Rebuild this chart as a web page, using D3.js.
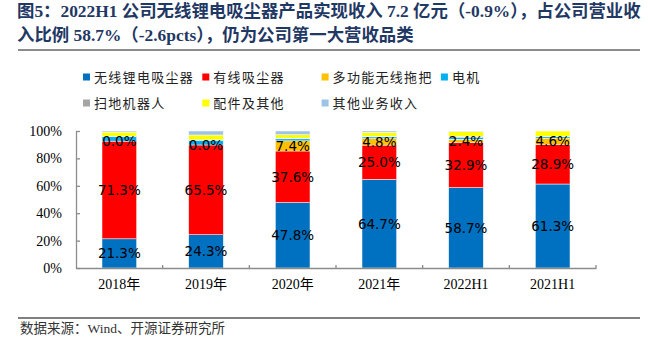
<!DOCTYPE html>
<html><head><meta charset="utf-8">
<script src="https://cdn.jsdelivr.net/npm/d3@7"></script>
<style>
html,body{margin:0;padding:0;background:#fff;overflow:hidden;}
svg{display:block;}
</style></head>
<body>
<svg id="chart" width="648" height="338"></svg>
<script>
const categories = ["2018年","2019年","2020年","2021年","2022H1","2021H1"];
const seriesNames = ["无线锂电吸尘器","有线吸尘器","多功能无线拖把","电机","扫地机器人","配件及其他","其他业务收入"];
const wireless    = [21.3, 24.3, 47.8, 64.7, 58.7, 61.3];
const corded      = [71.3, 65.5, 37.6, 25.0, 32.9, 28.9];
const mop         = [0.0, 0.0, 7.4, 4.8, 2.4, 4.6];
const motor       = [3.3, 3.2, 1.5, 1.2, 1.5, 1.0];
const robot       = [0.3, 0.5, 0.5, 0.3, 0.7, 0.2];
const accessories = [3.0, 3.6, 2.5, 3.0, 3.5, 4.0];
const otherBiz    = [0.8, 2.9, 2.7, 1.0, 0.3, 0.0];
const yTicks = [0, 20, 40, 60, 80, 100];
const titleLines = [
  "图5：2022H1 公司无线锂电吸尘器产品实现收入 7.2 亿元（-0.9%），占公司营业收",
  "入比例 58.7%（-2.6pcts），仍为公司第一大营收品类"
];
const labeledSeries = [0, 1, 2];
const colors = ["#0070C0","#FF0000","#FFC000","#00B0F0","#A5A5A5","#FFFF00","#9DC3E6"];

const allSeries = [wireless, corded, mop, motor, robot, accessories, otherBiz];
const rows = categories.map((c, i) => {
  const r = {cat: c};
  seriesNames.forEach((s, k) => r[s] = allSeries[k][i]);
  return r;
});

const svg = d3.select("#chart");

// Title
const title = svg.append("g").attr("font-family", "'Liberation Serif','Noto Sans CJK SC',serif")
  .attr("font-weight", "bold").attr("font-size", 17.4).attr("fill", "#1F3864");
titleLines.forEach((t, i) => {
  title.append("text").attr("x", 17).attr("y", 17 + i * 24).text(t);
});
svg.append("line").attr("x1", 18).attr("x2", 640).attr("y1", 50).attr("y2", 50)
  .attr("stroke", "#8c8c8c").attr("stroke-width", 2);

// Scales
const x = d3.scaleBand().domain(categories).range([76, 596]).padding(0);
const y = d3.scaleLinear().domain([0, 100]).range([268, 131]);
const barW = x.bandwidth() * 0.4;

const stack = d3.stack().keys(seriesNames);
const stacked = stack(rows);

const plot = svg.append("g");
plot.selectAll("g.series").data(stacked).join("g")
  .attr("class", "series")
  .attr("fill", (d, i) => colors[i])
  .selectAll("rect").data(d => d).join("rect")
  .attr("x", d => x(d.data.cat) + (x.bandwidth() - barW) / 2)
  .attr("width", barW)
  .attr("y", d => y(d[1]))
  .attr("height", d => Math.max(0, y(d[0]) - y(d[1])))
  .attr("stroke", "#ffffff").attr("stroke-width", 0.5);

// Data labels
labeledSeries.forEach(k => {
  plot.append("g").selectAll("text").data(stacked[k]).join("text")
    .attr("x", d => x(d.data.cat) + x.bandwidth() / 2)
    .attr("y", d => y((d[0] + d[1]) / 2))
    .attr("dy", "0.36em")
    .attr("text-anchor", "middle")
    .attr("font-family", "'DejaVu Sans',sans-serif")
    .attr("font-size", 13.5)
    .attr("fill", "#000")
    .text(d => (d[1] - d[0]).toFixed(1) + "%");
});

// Y axis
const yAxis = d3.axisLeft(y).tickValues(yTicks).tickFormat(d => d + "%").tickSizeInner(-4).tickSizeOuter(0).tickPadding(14);
const yg = svg.append("g").attr("transform", "translate(76,0)").call(yAxis);
yg.select(".domain").attr("stroke", "#8c8c8c").attr("stroke-width", 1.3);
yg.selectAll(".tick line").attr("stroke", "#8c8c8c").attr("stroke-width", 1.3);
yg.selectAll("text").attr("font-family", "'Liberation Serif',serif").attr("font-size", 14).attr("fill", "#000");

// X axis
const xAxis = d3.axisBottom(x).tickSize(0).tickPadding(11);
const xg = svg.append("g").attr("transform", "translate(0,268)").call(xAxis);
xg.select(".domain").attr("stroke", "#8c8c8c").attr("stroke-width", 1.3);
xg.selectAll("text").attr("font-family", "'Liberation Serif','Noto Sans CJK SC',serif").attr("font-size", 14).attr("fill", "#000");
const bounds = categories.slice(1).map(c => x(c)).concat([x.range()[1]]);
xg.selectAll("line.bound").data(bounds).join("line").attr("class", "bound")
  .attr("x1", d => d).attr("x2", d => d).attr("y1", -3).attr("y2", 0)
  .attr("stroke", "#8c8c8c").attr("stroke-width", 1.3);

// Legend
const legend = svg.append("g").attr("font-family", "'Noto Sans CJK SC',sans-serif").attr("font-size", 13).attr("fill", "#222");
seriesNames.forEach((name, i) => {
  const col = i < 4 ? i : i - 4;
  const row = i < 4 ? 0 : 1;
  const gx = 83 + col * 119.3;
  const gy = 77 + row * 26;
  legend.append("rect").attr("x", gx).attr("y", gy - 3.5).attr("width", 7).attr("height", 7).attr("fill", colors[i]);
  legend.append("text").attr("x", gx + 11).attr("y", gy).attr("dy", "0.36em")
    .attr("letter-spacing", 1.3).text(name);
});

// Footer
svg.append("line").attr("x1", 18).attr("x2", 640).attr("y1", 318).attr("y2", 318)
  .attr("stroke", "#555").attr("stroke-width", 1.3);
svg.append("text").attr("x", 20).attr("y", 333)
  .attr("font-family", "'Liberation Serif','Noto Sans CJK SC',serif").attr("font-size", 13.5).attr("fill", "#333")
  .text("数据来源：Wind、开源证券研究所");
</script>
</body></html>
